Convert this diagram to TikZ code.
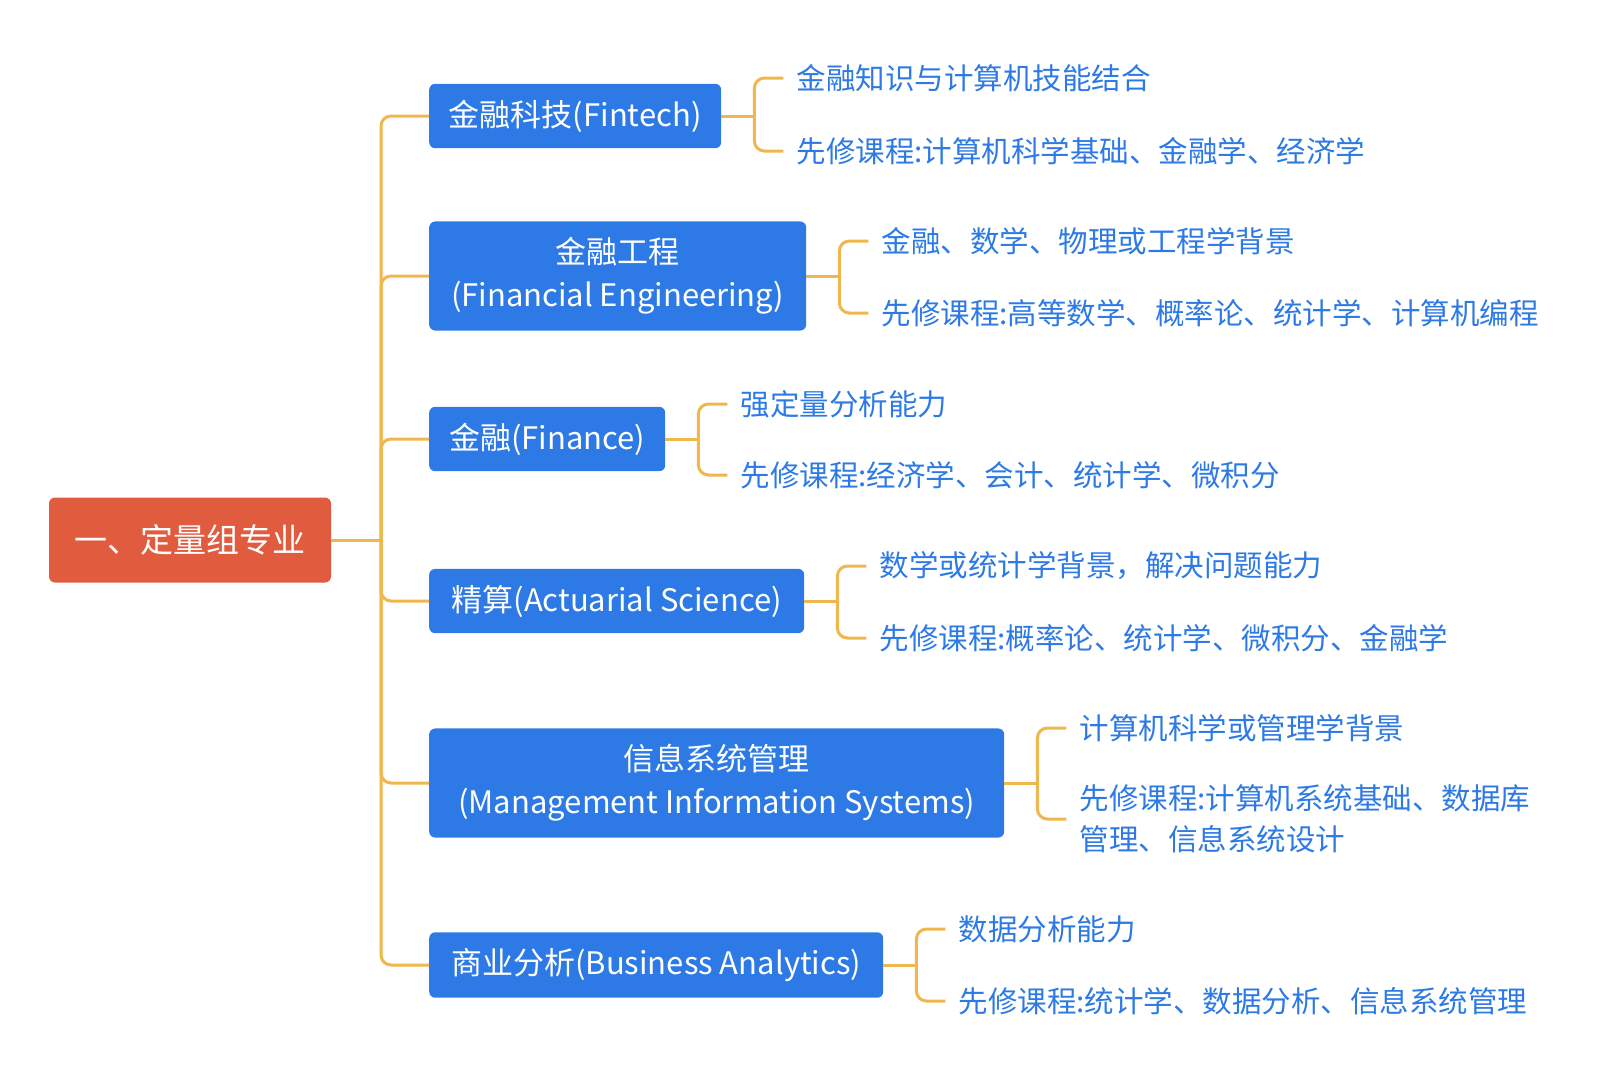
\documentclass[tikz,border=0pt]{standalone}
\usepackage{fontspec}
\setmainfont{Noto Sans CJK SC}
\definecolor{rootred}{HTML}{E15B3F}
\definecolor{majorblue}{HTML}{2D7AE6}
\definecolor{linkgold}{HTML}{EFB74C}
\tikzset{
  rootbox/.style={fill=rootred, text=white, rounded corners=6pt,
    minimum width=282pt, minimum height=85pt, font=\fontsize{33}{40}\selectfont},
  majorbox/.style={fill=majorblue, text=white, rounded corners=6pt, anchor=west,
    align=center, inner xsep=19pt, inner ysep=16pt, font=\fontsize{31}{43}\selectfont},
  leaf/.style={text=majorblue, anchor=west, align=left, inner xsep=13pt,
    inner ysep=2pt, font=\fontsize{29.5}{41}\selectfont},
  link/.style={draw=linkgold, line width=3pt, rounded corners=10pt},
}
\begin{document}
\begin{tikzpicture}[x=1pt,y=-1pt]
\useasboundingbox (0,0) rectangle (1610,1080);
% root and trunk
\node[rootbox] (root) at (190,540) {一、定量组专业};
\coordinate (trunk) at (381,540);

% majors
\node[majorbox, minimum width=292pt] (fintech) at (429,116) {金融科技(Fintech)};
\node[majorbox, minimum width=377pt] (fineng) at (429,276) {金融工程\\(Financial Engineering)};
\node[majorbox, minimum width=236pt] (finance) at (429,439) {金融(Finance)};
\node[majorbox, minimum width=375pt] (actuarial) at (429,601) {精算(Actuarial Science)};
\node[majorbox, minimum width=575pt] (mis) at (429,783) {信息系统管理\\(Management Information Systems)};
\node[majorbox, minimum width=454pt] (busana) at (429,965) {商业分析(Business Analytics)};

% leaves
\node[leaf] (fintech-a) at ([shift={(62,-38)}]fintech.east) {金融知识与计算机技能结合};
\node[leaf] (fintech-b) at ([shift={(62,35)}]fintech.east) {先修课程:计算机科学基础、金融学、经济学};
\node[leaf] (fineng-a) at ([shift={(62,-35)}]fineng.east) {金融、数学、物理或工程学背景};
\node[leaf] (fineng-b) at ([shift={(62,37)}]fineng.east) {先修课程:高等数学、概率论、统计学、计算机编程};
\node[leaf] (finance-a) at ([shift={(62,-35)}]finance.east) {强定量分析能力};
\node[leaf] (finance-b) at ([shift={(62,36)}]finance.east) {先修课程:经济学、会计、统计学、微积分};
\node[leaf] (actuarial-a) at ([shift={(62,-35)}]actuarial.east) {数学或统计学背景，解决问题能力};
\node[leaf] (actuarial-b) at ([shift={(62,37)}]actuarial.east) {先修课程:概率论、统计学、微积分、金融学};
\node[leaf] (mis-a) at ([shift={(62,-55)}]mis.east) {计算机科学或管理学背景};
\node[leaf] (mis-b) at ([shift={(62,36)}]mis.east) {先修课程:计算机系统基础、数据库\\管理、信息系统设计};
\node[leaf] (busana-a) at ([shift={(62,-36)}]busana.east) {数据分析能力};
\node[leaf] (busana-b) at ([shift={(62,36)}]busana.east) {先修课程:统计学、数据分析、信息系统管理};

% root to majors
\draw[link] (root.east) -- (trunk);
\draw[link] (trunk) |- (fintech.west);
\draw[link] (trunk) |- (fineng.west);
\draw[link] (trunk) |- (finance.west);
\draw[link] (trunk) |- (actuarial.west);
\draw[link] (trunk) |- (mis.west);
\draw[link] (trunk) |- (busana.west);

% majors to leaves
\draw[link] (fintech.east) -- ++(33,0) coordinate (fintech-j);
\draw[link] (fintech-j) |- (fintech-a.west);
\draw[link] (fintech-j) |- (fintech-b.west);
\draw[link] (fineng.east) -- ++(33,0) coordinate (fineng-j);
\draw[link] (fineng-j) |- (fineng-a.west);
\draw[link] (fineng-j) |- (fineng-b.west);
\draw[link] (finance.east) -- ++(33,0) coordinate (finance-j);
\draw[link] (finance-j) |- (finance-a.west);
\draw[link] (finance-j) |- (finance-b.west);
\draw[link] (actuarial.east) -- ++(33,0) coordinate (actuarial-j);
\draw[link] (actuarial-j) |- (actuarial-a.west);
\draw[link] (actuarial-j) |- (actuarial-b.west);
\draw[link] (mis.east) -- ++(33,0) coordinate (mis-j);
\draw[link] (mis-j) |- (mis-a.west);
\draw[link] (mis-j) |- (mis-b.west);
\draw[link] (busana.east) -- ++(33,0) coordinate (busana-j);
\draw[link] (busana-j) |- (busana-a.west);
\draw[link] (busana-j) |- (busana-b.west);
\end{tikzpicture}
\end{document}
